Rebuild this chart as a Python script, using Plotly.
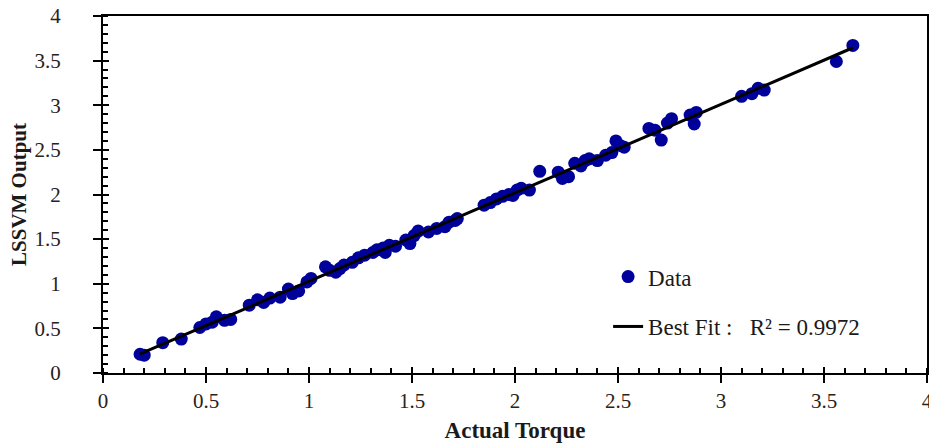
import numpy as np
import plotly.graph_objects as go

# Data
actual_torque = [0.18, 0.20, 0.29, 0.38, 0.47, 0.50, 0.53, 0.55, 0.59, 0.62,
                 0.71, 0.75, 0.78, 0.81, 0.86, 0.90, 0.92, 0.95, 0.99, 1.01,
                 1.08, 1.10, 1.13, 1.15, 1.17, 1.21, 1.24, 1.27, 1.31, 1.33,
                 1.36, 1.37, 1.39, 1.42, 1.47, 1.49, 1.51, 1.53, 1.58, 1.62,
                 1.66, 1.68, 1.71, 1.72, 1.85, 1.88, 1.91, 1.94, 1.97, 1.99,
                 2.01, 2.03, 2.07, 2.12, 2.21, 2.23, 2.26, 2.29, 2.32, 2.34,
                 2.36, 2.40, 2.44, 2.47, 2.49, 2.51, 2.53, 2.65, 2.68, 2.71,
                 2.74, 2.76, 2.85, 2.87, 2.88, 3.10, 3.15, 3.18, 3.21, 3.56,
                 3.64]
lssvm_output = [0.21, 0.20, 0.34, 0.38, 0.51, 0.55, 0.57, 0.63, 0.59, 0.60,
                0.76, 0.82, 0.79, 0.84, 0.85, 0.94, 0.89, 0.92, 1.02, 1.06,
                1.19, 1.15, 1.13, 1.17, 1.21, 1.24, 1.29, 1.32, 1.35, 1.38,
                1.40, 1.35, 1.43, 1.42, 1.49, 1.45, 1.54, 1.59, 1.58, 1.62,
                1.64, 1.69, 1.71, 1.73, 1.88, 1.91, 1.95, 1.98, 2.00, 1.99,
                2.05, 2.07, 2.05, 2.26, 2.25, 2.18, 2.20, 2.35, 2.32, 2.38,
                2.40, 2.38, 2.44, 2.47, 2.60, 2.55, 2.53, 2.74, 2.72, 2.61,
                2.80, 2.85, 2.89, 2.79, 2.92, 3.10, 3.13, 3.19, 3.17, 3.49,
                3.67]
r_squared_label = "0.9972"
x_ticks = [0, 0.5, 1, 1.5, 2, 2.5, 3, 3.5, 4]
y_ticks = [0, 0.5, 1, 1.5, 2, 2.5, 3, 3.5, 4]

# Least-squares best fit line through the data
xa = np.array(actual_torque)
ya = np.array(lssvm_output)
slope, intercept = np.polyfit(xa, ya, 1)
fit_x = [float(xa.min()), float(xa.max())]
fit_y = [slope * v + intercept for v in fit_x]

FONT = "Liberation Serif, Times New Roman, serif"
TICKCOL = "#2a2118"
TXT = "#1a1a1a"
NB = "\u00a0"

fig = go.Figure()
fig.add_trace(go.Scatter(
    x=actual_torque, y=lssvm_output, mode="markers",
    marker=dict(color="#00009a", size=13, line=dict(width=0)),
    name="Data", legendgroup="data", legendrank=1,
))
fig.add_trace(go.Scatter(
    x=fit_x, y=fit_y, mode="lines",
    line=dict(color="black", width=3),
    name="Best Fit :" + NB * 3 + "R\u00b2 = " + r_squared_label,
    legendgroup="fit", legendrank=2,
))

axis_common = dict(
    range=[0, 4], showgrid=False, zeroline=False, automargin=False,
    showline=True, linecolor="black", linewidth=2, mirror=True,
    ticks="outside", ticklen=8, tickwidth=1.5, tickcolor="black",
    tickfont=dict(family=FONT, size=21, color=TICKCOL),
    ticklabeloverflow="allow",
    minor=dict(dtick=0.1, ticks="inside", ticklen=5, tickwidth=1.5, tickcolor="black"),
)

fig.update_layout(
    width=929, height=444,
    margin=dict(l=103, r=2, t=16, b=71),
    paper_bgcolor="white", plot_bgcolor="white",
    showlegend=True,
    legend=dict(
        x=0.613, y=0.2, xanchor="left", yanchor="middle",
        bgcolor="rgba(0,0,0,0)", borderwidth=0,
        font=dict(family=FONT, size=23, color=TXT),
        tracegroupgap=17, traceorder="grouped",
    ),
    xaxis=dict(
        **axis_common, tickvals=x_ticks,
        title=dict(text="<b>Actual Torque</b>", font=dict(family=FONT, size=23, color=TXT), standoff=10),
    ),
    yaxis=dict(
        **axis_common, tickvals=y_ticks, ticklabelstandoff=28,
        title=dict(text="<b>LSSVM Output</b>", font=dict(family=FONT, size=21, color=TXT), standoff=2),
    ),
    # overlay axes giving the inward half of the crossing major ticks
    xaxis2=dict(overlaying="x", matches="x", range=[0, 4], side="bottom", anchor="y",
                showgrid=False, zeroline=False, showline=False, showticklabels=False,
                automargin=False,
                ticks="inside", ticklen=6, tickwidth=1.5, tickcolor="black", tickvals=x_ticks),
    yaxis2=dict(overlaying="y", matches="y", range=[0, 4], side="left", anchor="x",
                showgrid=False, zeroline=False, showline=False, showticklabels=False,
                automargin=False,
                ticks="inside", ticklen=6, tickwidth=1.5, tickcolor="black", tickvals=y_ticks),
)
# invisible trace to activate the overlay axes
fig.add_trace(go.Scatter(x=[None], y=[None], xaxis="x2", yaxis="y2",
                         showlegend=False, hoverinfo="skip"))

fig.write_html("out.html")
